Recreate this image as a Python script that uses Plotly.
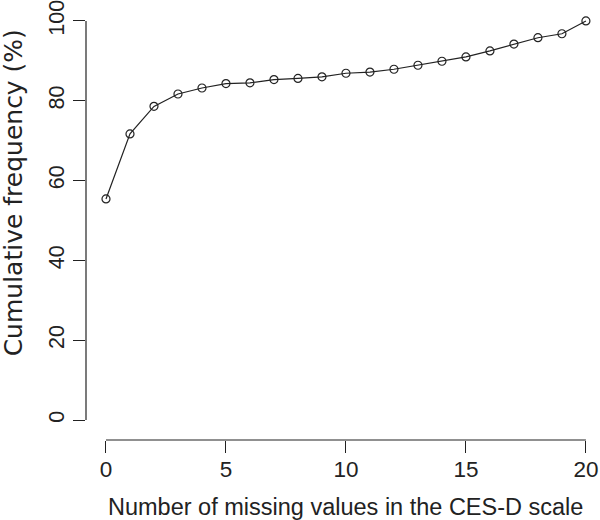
import plotly.graph_objects as go

missing_values = list(range(0, 21))
cumulative_freq = [55.4, 71.7, 78.6, 81.7, 83.2, 84.3, 84.5, 85.3, 85.6, 86.0,
                   86.9, 87.2, 87.9, 88.9, 89.9, 91.0, 92.5, 94.2, 95.8, 96.8, 100.0]
x_ticks = [0, 5, 10, 15, 20]
y_ticks = [0, 20, 40, 60, 80, 100]
x_title = "Number of missing values in the CES-D scale"
y_title = "Cumulative frequency (%)"

FONT = "Liberation Sans, Arial, sans-serif"
INK = "#222222"

fig = go.Figure()
fig.add_trace(go.Scatter(
    x=missing_values, y=cumulative_freq, mode="lines+markers",
    line=dict(color=INK, width=1.2),
    marker=dict(symbol="circle-open", size=8, color=INK, line=dict(width=1.2)),
    showlegend=False, cliponaxis=False, hoverinfo="skip",
))

fig.update_layout(
    width=600, height=520,
    margin=dict(l=86, r=4, t=3, b=80, autoexpand=False),
    paper_bgcolor="white", plot_bgcolor="white",
    font=dict(family=FONT, color=INK, size=22),
    xaxis=dict(range=[-0.833, 20.42], tickvals=x_ticks, ticks="outside", ticklen=12,
               tickwidth=1.2, tickcolor=INK, showgrid=False, zeroline=False,
               showline=False, automargin=False, ticklabelstandoff=-3,
               ticklabeloverflow="allow", tickfont=dict(size=22.5, color=INK)),
    yaxis=dict(range=[-5.0, 104.5], tickvals=y_ticks, ticks="outside", ticklen=12,
               tickwidth=1.2, tickcolor=INK, showgrid=False, zeroline=False,
               showline=False, automargin=False, tickangle=-90,
               ticklabeloverflow="allow", tickfont=dict(size=21.5, color=INK)),
    shapes=[
        dict(type="line", xref="x", yref="paper", x0=x_ticks[0], x1=x_ticks[-1], y0=0, y1=0,
             line=dict(color=INK, width=1.2)),
        dict(type="line", xref="paper", yref="y", x0=0, x1=0, y0=y_ticks[0], y1=y_ticks[-1],
             line=dict(color=INK, width=1.2)),
    ],
    annotations=[
        dict(text=x_title, xref="x", yref="paper", x=10, y=0, yshift=-67,
             showarrow=False, font=dict(size=23.5, color=INK), xanchor="center", yanchor="middle"),
        dict(text=y_title, xref="paper", yref="y", x=0, xshift=-73, y=56.8,
             showarrow=False, textangle=-90,
             font=dict(size=25, color=INK, family="DejaVu Sans, Liberation Sans, sans-serif"),
             xanchor="center", yanchor="middle"),
    ],
)

fig.write_html(
    "out.html",
    config={"displayModeBar": False},
    post_script="document.body.style.margin='0';document.body.style.overflow='hidden';",
)
